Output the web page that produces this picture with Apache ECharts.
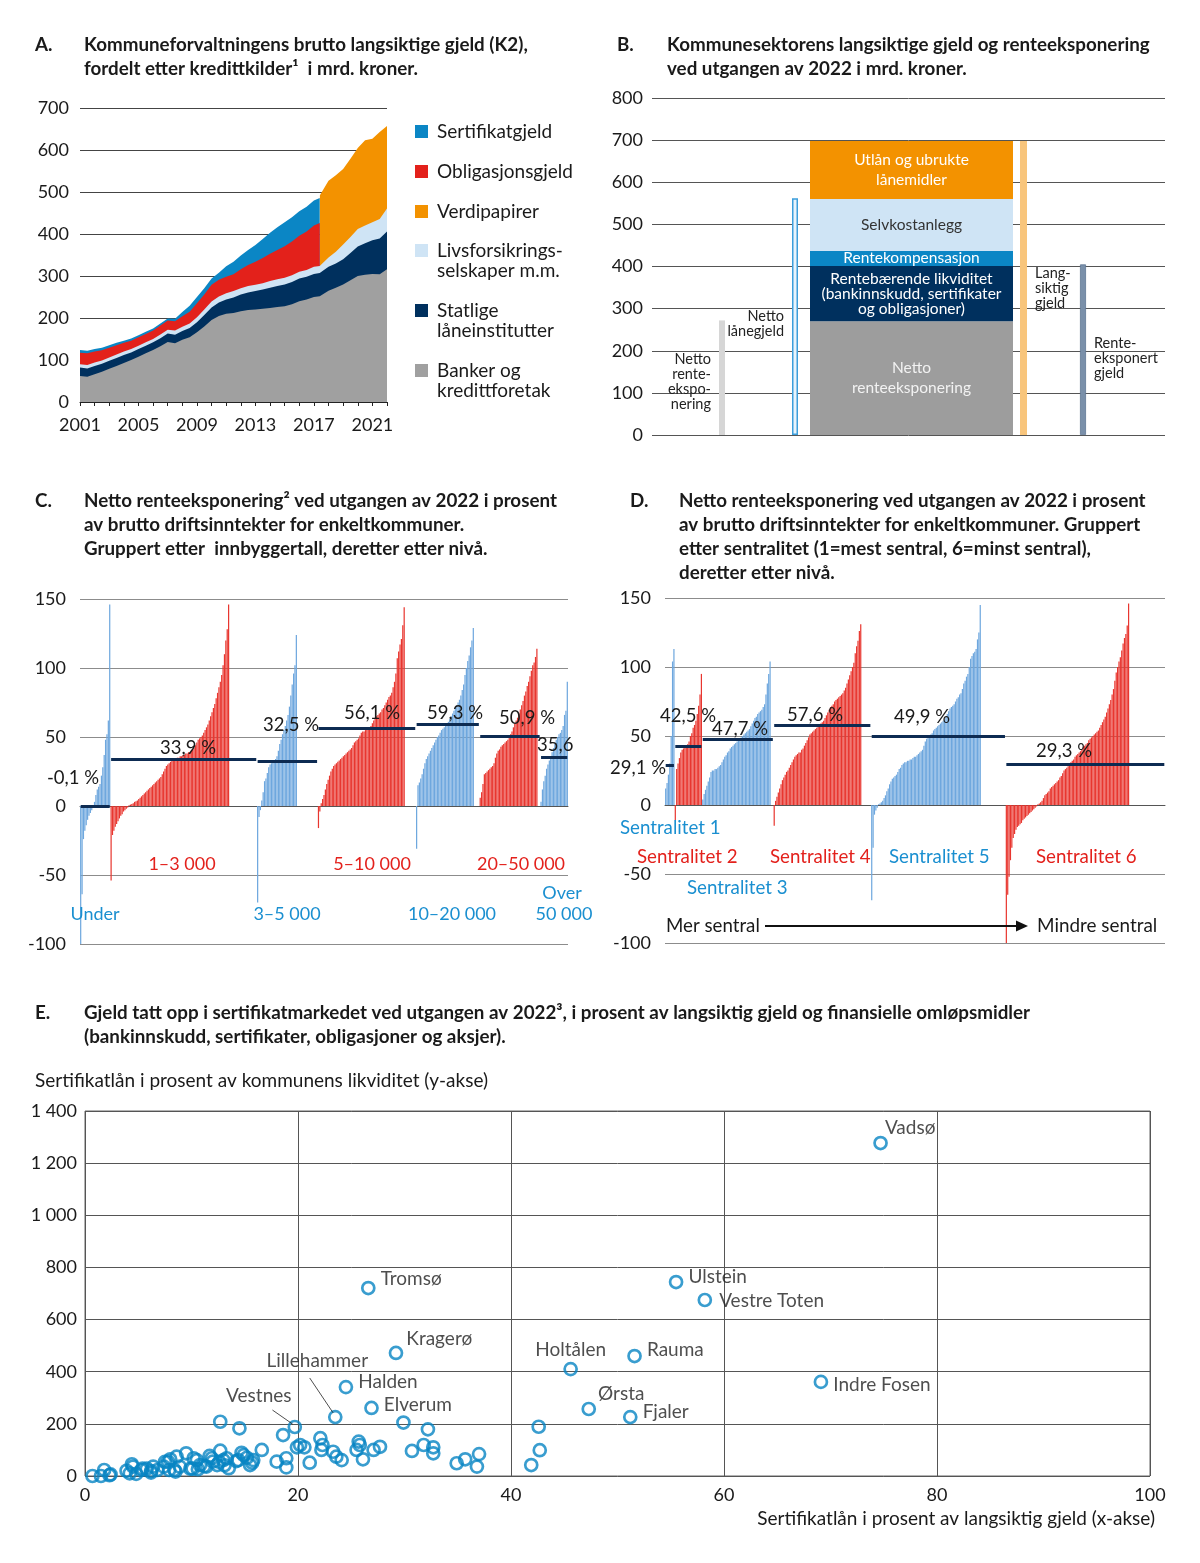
<!DOCTYPE html>
<html><head><meta charset="utf-8">
<script src="https://cdn.jsdelivr.net/npm/echarts@6/dist/echarts.min.js"></script>
<style>html,body{margin:0;padding:0;background:#fff}#c{width:1200px;height:1563px}</style>
</head><body><div id="c"></div>
<script>
// ================= DATA =================
// Panel A: brutto langsiktig gjeld (mrd. kr), per kredittkilde
const aYears = [2001,2001.5,2002,2002.5,2003,2003.5,2004,2004.5,2005,2005.5,2006,2006.5,2007,2007.5,2008,2008.5,2009,2009.5,2010,2010.5,2011,2011.5,2012,2012.5,2013,2013.5,2014,2014.5,2015,2015.5,2016,2016.5,2017,2017.4,2017.41,2018,2018.5,2019,2019.5,2020,2020.5,2021,2021.5,2022];
const aBanker = [62,60,66,72,79,86,93,100,108,116,124,133,143,140,148,154,166,180,195,205,210,212,216,219,220,222,224,226,228,233,240,244,250,252,252,265,272,280,290,300,303,305,304,316];
const aStatlige = [20,20,20,19,19,19,19,18,18,18,18,19,20,20,21,22,24,27,30,32,34,37,40,42,44,46,48,50,52,53,54,54,55,55,55,57,58,60,65,70,75,80,85,90];
const aLivs = [8,8,8,8,8,8,8,8,8,8,8,9,9,10,10,11,12,13,14,14,15,15,15,15,15,15,16,16,16,16,16,16,17,17,17,22,28,35,38,42,42,43,47,55];
const aObligasjon = [27,28,26,24,23,22,21,20,20,20,20,21,22,22,25,28,33,36,40,40,39,40,45,50,55,60,65,70,75,80,86,92,98,102,null,null,null,null,null,null,null,null,null,null];
const aSertifikat = [7,6,6,6,6,6,5,5,5,5,5,5,5,6,10,14,15,15,15,17,25,30,33,36,40,45,50,54,57,58,58,59,60,60,null,null,null,null,null,null,null,null,null,null];
const aVerdipapirer = [null,null,null,null,null,null,null,null,null,null,null,null,null,null,null,null,null,null,null,null,null,null,null,null,null,null,null,null,null,null,null,null,null,null,168,183,182,180,186,193,203,199,207,196];
const aTicks = [0,100,200,300,400,500,600,700];

// Panel B
const bStackNames = ['Netto renteeksponering','Rentebærende likviditet (bankinnskudd, sertifikater og obligasjoner)','Rentekompensasjon','Selvkostanlegg','Utlån og ubrukte lånemidler'];
const bStackValues = [270, 131, 36, 123, 138];
const bSideNames = ['Netto renteeksponering','Netto lånegjeld','Langsiktig gjeld','Renteeksponert gjeld'];
const bSideValues = [272, 562, 698, 405];

// Panel C: grupper etter innbyggertall (sortert etter nivå)
const cGroups = ['Under 1 000','1–3 000','3–5 000','5–10 000','10–20 000','20–50 000','Over 50 000'];
const cUnder = [-150,-64,-24,-18,-14,-10,-7,-5,-3,-1,3,8,12,14,16,22,28,37,48,52,62,146];
const c1to3 = [-54,-21,-18,-15,-13,-11,-9,-7,-6,-4,-3,-2,-1,0.5,1,1.5,2,3,3.5,4,5,6,7,8,9,10,11,12,13,14,15,16,17,18,19,20,21,23,25,27,29,30,31,32,33,33,34,34,35,35,36,36,37,37,38,38,39,39,40,41,42,44,46,48,49,50,51,53,55,57,59,62,65,68,71,74,78,82,86,90,95,102,110,120,128,146];
const c3to5 = [-70,-8,-3,4,10,18,20,24,28,30,31,32,33,34,36,40,45,48,52,55,58,62,66,72,80,88,96,102,124];
const c5to10 = [-16,-4,2,5,8,12,16,19,22,25,27,29,30,31,32,33,34,35,36,37,38,39,40,41,42,44,46,47,48,49,51,53,54,54,55,55,56,57,58,60,62,64,65,66,67,68,70,71,73,75,77,79,80,82,86,90,96,107,112,117,121,131,144];
const c10to20 = [-31,15,17,20,23,27,31,34,36,38,40,42,44,46,48,50,51,53,55,56,57,58,60,61,63,65,67,69,71,73,75,77,80,84,88,95,100,105,109,115,120,129];
const c20to50 = [6,10,16,23,24,25,26,27,28,29,31,35,38,40,41,43,44,45,46,47,48,50,52,54,57,60,62,64,67,70,73,76,80,83,87,90,94,98,102,104,108,114];
const cOver50 = [3,12,18,22,27,30,33,36,39,42,45,48,50,52,53,55,58,66,69,90];
const cAvg = [-0.1, 33.9, 32.5, 56.1, 59.3, 50.9, 35.6];

// Panel D: grupper etter sentralitet
const dGroups = ['Sentralitet 1','Sentralitet 2','Sentralitet 3','Sentralitet 4','Sentralitet 5','Sentralitet 6'];
const d1 = [12,16,22,30,50,104,113];
const d2 = [-11,26,30,34,38,40,41,42,43,44,46,50,52,56,58,61,66,72,80,95];
const d3 = [4,8,11,14,17,20,24,25,25,26,26,27,28,29,31,33,35,36,38,39,41,42,43,44,45,46,47,48,49,50,51,52,53,54,55,57,59,61,63,64,66,67,68,69,71,73,80,88,95,104];
const d4 = [-15,3,6,9,12,15,18,20,22,24,25,27,29,31,33,35,36,37,38,38,40,41,43,45,47,49,51,52,53,54,55,56,57,58,59,60,61,63,65,67,69,71,72,73,75,76,77,78,79,80,81,83,85,88,91,94,97,100,103,110,115,119,126,131];
const d5 = [-69,-31,-7,-4,-2,0.5,1,2,3,5,7,10,12,15,17,19,20,21,22,24,26,27,29,30,31,31,32,32,33,33,34,35,35,36,37,38,39,40,43,46,48,49,50,51,52,54,55,56,57,58,59,60,61,62,64,66,68,70,71,72,73,75,77,78,80,81,84,88,90,93,95,100,106,108,110,111,113,120,125,145];
const d6 = [-130,-65,-52,-40,-31,-24,-21,-18,-16,-15,-14,-13,-11,-10,-9,-8,-7,-6,-5,-4,-3,-2,-1,0.5,1,2,3,5,7,8,9,10,12,13,14,15,16,17,18,20,21,23,25,26,27,28,30,31,32,33,35,36,37,38,39,40,42,43,44,45,47,48,49,50,51,52,53,54,56,58,60,62,64,67,70,73,76,80,84,90,96,100,104,107,112,117,121,124,130,146];
const dAvg = [29.1, 42.5, 47.7, 57.6, 49.9, 29.3];

// Panel E: scatter
const eNames = ['Vadsø','Tromsø','Ulstein','Vestre Toten','Kragerø','Holtålen','Rauma','Indre Fosen','Halden','Lillehammer','Elverum','Vestnes','Ørsta','Fjaler'];
const eNamedX = [74.7,26.6,55.5,58.2,29.2,45.6,51.6,69.1,24.5,23.5,26.9,19.7,47.3,51.2];
const eNamedY = [1277,721,744,675,472,410,460,361,341,226,261,188,257,226];
const eX = [0.7,1.5,2.3,3.9,4.5,4.2,4.8,5.3,5.8,6.2,6.4,6.8,7.4,7.8,7.9,8.5,8.6,8.9,9.5,9.9,10.2,10.5,10.6,10.8,11.4,11.9,12.0,12.4,12.7,12.7,13.0,13.5,13.3,14.4,14.5,14.7,14.9,15.5,15.8,16.6,18.0,18.6,18.9,18.9,19.9,20.2,20.6,21.1,22.1,22.3,22.2,23.3,23.6,24.1,25.7,25.8,25.5,26.1,27.1,27.7,29.9,30.7,31.8,32.2,32.7,32.7,34.9,35.7,36.8,37.0,41.9,42.7,42.6,1.8,2.4,4.4,5.4,6.2,7.5,8.0,8.4,10.1,11.2,11.7,12.6,13.1,14.2,15.2,15.7];
const eY = [0,0,3,20,36,10,8,23,28,13,36,23,36,55,23,17,74,36,87,28,68,61,26,42,36,68,55,42,97,208,61,30,68,61,183,89,80,42,61,100,55,157,68,33,110,119,110,51,145,119,100,93,74,61,132,119,100,64,100,112,205,96,119,179,110,87,49,64,36,84,42,99,189,23,6,45,28,19,54,64,23,28,38,77,54,41,57,70,51];

// ================= LAYOUT / STYLE =================
const FF = 'Lato';
const INK = '#1a1a1a';
const BLUE_T = '#1a8fd0', RED_T = '#e3211c';
const BAR_BLUE = '#6ea7de', BAR_RED = '#e8362f', AVG = '#0d2b52';
const AX = {fontFamily: FF, fontSize: 18, color: INK};
const TS = 18.8;   // title size
const LS = 19;     // label size

function txt(x, y, text, o) {
  o = o || {};
  const st = {text: text, font: (o.weight || 'normal') + ' ' + (o.size || LS) + 'px ' + FF, fill: o.color || INK,
    textAlign: o.align || 'left', textVerticalAlign: 'middle'};
  return {type: 'text', x: x, y: y, silent: true, z: 100, style: st};
}
function rect(x, y, w, h, color) {
  return {type: 'rect', silent: true, z: 100, shape: {x: x, y: y, width: w, height: h}, style: {fill: color}};
}

// ---- Panel A cumulative tops (painter's stacking) ----
const addArr = (a, b) => a.map((v, i) => (v == null || b[i] == null) ? null : v + b[i]);
const c1 = aBanker, c2 = addArr(c1, aStatlige), c3 = addArr(c2, aLivs), c4 = addArr(c3, aObligasjon),
      c5 = addArr(c4, aSertifikat), c6 = addArr(c3, aVerdipapirer);
const aDefs = [
  {name: 'Sertifikatgjeld', top: c5, color: '#0b86c5'},
  {name: 'Verdipapirer', top: c6, color: '#f39200'},
  {name: 'Obligasjonsgjeld', top: c4, color: '#e3211b'},
  {name: 'Livsforsikringsselskaper m.m.', top: c3, color: '#cfe4f5'},
  {name: 'Statlige låneinstitutter', top: c2, color: '#00305e'},
  {name: 'Banker og kredittforetak', top: c1, color: '#a0a0a0'}
];
const aSeries = aDefs.map(d => ({
  type: 'line', name: d.name, xAxisIndex: 0, yAxisIndex: 0, silent: true,
  symbol: 'none', showSymbol: false, lineStyle: {width: 0}, itemStyle: {color: d.color},
  areaStyle: {color: d.color, opacity: 1},
  data: aYears.map((x, i) => [x, d.top[i] == null ? '-' : d.top[i]])
}));

// ---- Panel B ----
const bStackColors = ['#9d9d9d', '#00305e', '#0b86c5', '#cfe4f5', '#f39200'];
const bStackLabel = [
  {text: 'Netto\nrenteeksponering', color: '#f2f2f2', lh: 20},
  {text: 'Rentebærende likviditet\n(bankinnskudd, sertifikater\nog obligasjoner)', color: '#ffffff', lh: 15},
  {text: 'Rentekompensasjon', color: '#ffffff', lh: 15},
  {text: 'Selvkostanlegg', color: '#333333', lh: 15},
  {text: 'Utlån og ubrukte\nlånemidler', color: '#ffffff', lh: 20}
];
const bStackSeries = bStackNames.map((n, i) => ({
  type: 'bar', name: n, stack: 'b', xAxisIndex: 4, yAxisIndex: 4, barWidth: '100%', silent: true,
  itemStyle: {color: bStackColors[i]}, data: [bStackValues[i]],
  label: {show: true, position: 'inside', formatter: bStackLabel[i].text, color: bStackLabel[i].color,
    fontFamily: FF, fontSize: 15.5, lineHeight: bStackLabel[i].lh}
}));
const bSideStyle = [
  {grid: 2, item: {color: '#d6d6d6'}, text: 'Netto\nrente-\nekspo-\nnering', pos: 'left', off: [0, 4]},
  {grid: 3, item: {color: '#e9f4fc', borderColor: '#3d9edb', borderWidth: 1.5}, text: 'Netto\nlånegjeld', pos: 'left', off: [0, 7]},
  {grid: 5, item: {color: '#f8c57c'}, text: 'Lang-\nsiktig\ngjeld', pos: 'right', off: [0, 0]},
  {grid: 6, item: {color: '#7a90aa', borderColor: '#5f7693', borderWidth: 0.8}, text: 'Rente-\neksponert\ngjeld', pos: 'right', off: [0, 9]}
];
const bSideSeries = bSideNames.map((n, i) => ({
  type: 'bar', name: n, xAxisIndex: bSideStyle[i].grid, yAxisIndex: bSideStyle[i].grid, barWidth: '100%', silent: true,
  itemStyle: bSideStyle[i].item, data: [bSideValues[i]],
  label: {show: true, position: bSideStyle[i].pos, distance: 8, offset: bSideStyle[i].off, formatter: bSideStyle[i].text,
    color: '#222', fontFamily: FF, fontSize: 14.5, lineHeight: 15}
}));

// ---- Panels C / D: build slot arrays ----
function buildBars(groups, gaps, colors) {
  const slots = [], spans = [];
  groups.forEach((vals, g) => {
    const start = slots.length;
    vals.forEach(v => slots.push({value: v, itemStyle: {color: colors[g]}}));
    for (let k = 0; k < gaps[g]; k++) slots.push('-');
    spans.push([start, slots.length - 1]);
  });
  return {slots, spans, cats: slots.map((_, i) => String(i))};
}
const C = buildBars([cUnder, c1to3, c3to5, c5to10, c10to20, c20to50, cOver50], [0, 20, 15, 8, 4, 2, 0],
  [BAR_BLUE, BAR_RED, BAR_BLUE, BAR_RED, BAR_BLUE, BAR_RED, BAR_BLUE]);
const D = buildBars([d1, d2, d3, d4, d5, d6], [0, 0, 2, 7, 18, 26],
  [BAR_BLUE, BAR_RED, BAR_BLUE, BAR_RED, BAR_BLUE, BAR_RED]);
function avgLines(spans, avgs) {
  return {silent: true, symbol: ['none', 'none'], label: {show: false},
    lineStyle: {color: AVG, width: 3, type: 'solid'},
    data: spans.map((s, i) => [{coord: [String(s[0]), avgs[i]]}, {coord: [String(s[1]), avgs[i]]}])};
}
const fmtPct = v => v.toFixed(1).replace('.', ',') + ' %';

// ---- Panel E ----
const eLabelLayout = {
  'Vadsø': {position: 'right', offset: [-8, -15]},
  'Tromsø': {position: 'right', offset: [0, -9]},
  'Ulstein': {position: 'right', offset: [0, -5]},
  'Vestre Toten': {position: 'right', offset: [2, 1]},
  'Kragerø': {position: 'right', offset: [-2, -14]},
  'Holtålen': {position: 'top', offset: [0, 3]},
  'Rauma': {position: 'right', offset: [0, -6]},
  'Indre Fosen': {position: 'right', offset: [0, 3]},
  'Halden': {position: 'right', offset: [0, -5]},
  'Lillehammer': {position: 'top', offset: [-18, -34]},
  'Elverum': {position: 'right', offset: [0, -3]},
  'Vestnes': {position: 'top', offset: [-36, -9]},
  'Ørsta': {position: 'right', offset: [-3, -15]},
  'Fjaler': {position: 'right', offset: [0, -5]}
};
const eData = eX.map((x, i) => [x, eY[i]]).concat(eNames.map((n, i) => ({
  name: n, value: [eNamedX[i], eNamedY[i]],
  label: Object.assign({show: true, formatter: '{b}', distance: 5, color: '#222', fontFamily: FF, fontSize: LS}, eLabelLayout[n])
})));
const fmtThousand = v => v >= 1000 ? Math.floor(v / 1000) + ' ' + String(v % 1000).padStart(3, '0') : String(v);

// ---- grids & axes ----
const grids = [
  {left: 80, top: 108, width: 307, height: 294},
  {left: 652, top: 98, width: 513, height: 337},
  {left: 719, top: 98, width: 6, height: 337},
  {left: 792, top: 98, width: 6, height: 337},
  {left: 810, top: 98, width: 203, height: 337},
  {left: 1020, top: 98, width: 7, height: 337},
  {left: 1080, top: 98, width: 6, height: 337},
  {left: 80, top: 599, width: 488, height: 345},
  {left: 665, top: 598, width: 500, height: 345},
  {left: 85, top: 1111, width: 1065, height: 365, show: true, borderColor: '#666', borderWidth: 1}
].map(g => Object.assign({containLabel: false, outerBoundsMode: 'none'}, g));

const hiddenCat = (gi, name) => ({gridIndex: gi, type: 'category', data: [name], show: false});
const xAxes = [
  {gridIndex: 0, type: 'value', min: 2001, max: 2022, interval: 1,
    axisLine: {lineStyle: {color: '#222'}}, axisTick: {show: true, length: 4, lineStyle: {color: '#222'}},
    axisLabel: Object.assign({}, AX, {margin: 14, formatter: v => ((v - 2001) % 4 === 0 ? String(v) : '')}),
    splitLine: {show: false}},
  hiddenCat(1, ''), hiddenCat(2, bSideNames[0]), hiddenCat(3, bSideNames[1]), hiddenCat(4, 'Sum'),
  hiddenCat(5, bSideNames[2]), hiddenCat(6, bSideNames[3]),
  {gridIndex: 7, type: 'category', data: C.cats, axisLine: {onZero: true, lineStyle: {color: '#555'}}, axisTick: {show: false}, axisLabel: {show: false}},
  {gridIndex: 8, type: 'category', data: D.cats, axisLine: {onZero: true, lineStyle: {color: '#555'}}, axisTick: {show: false}, axisLabel: {show: false}},
  {gridIndex: 9, type: 'value', min: 0, max: 100, interval: 20, axisLine: {show: false}, axisTick: {show: false},
    axisLabel: Object.assign({}, AX, {margin: 10}), splitLine: {lineStyle: {color: '#555'}}}
];
const hiddenVal = gi => ({gridIndex: gi, type: 'value', min: 0, max: 800, show: false});
const yAxes = [
  {gridIndex: 0, type: 'value', min: aTicks[0], max: aTicks[aTicks.length - 1], interval: 100, axisLine: {show: false}, axisTick: {show: false},
    axisLabel: Object.assign({}, AX, {margin: 11}), splitLine: {lineStyle: {color: '#444'}}},
  {gridIndex: 1, type: 'value', min: 0, max: 800, interval: 100, axisLine: {show: false}, axisTick: {show: false},
    axisLabel: Object.assign({}, AX, {margin: 9}), splitLine: {lineStyle: {color: '#555'}}},
  hiddenVal(2), hiddenVal(3), hiddenVal(4), hiddenVal(5), hiddenVal(6),
  {gridIndex: 7, type: 'value', min: -100, max: 150, interval: 50, axisLine: {show: false}, axisTick: {show: false},
    axisLabel: Object.assign({}, AX, {margin: 14}), splitLine: {lineStyle: {color: '#8c8c8c'}}},
  {gridIndex: 8, type: 'value', min: -100, max: 150, interval: 50, axisLine: {show: false}, axisTick: {show: false},
    axisLabel: Object.assign({}, AX, {margin: 14}), splitLine: {lineStyle: {color: '#8c8c8c'}}},
  {gridIndex: 9, type: 'value', min: 0, max: 1400, interval: 200, axisLine: {show: false}, axisTick: {show: false},
    axisLabel: Object.assign({}, AX, {margin: 8, formatter: fmtThousand}), splitLine: {lineStyle: {color: '#555'}}}
];

// ---- series ----
const series = [].concat(aSeries, bSideSeries, bStackSeries, [
  {type: 'bar', name: 'Innbyggertall', xAxisIndex: 7, yAxisIndex: 7, data: C.slots, barCategoryGap: '12%', silent: true,
    markLine: avgLines(C.spans, cAvg)},
  {type: 'bar', name: 'Sentralitet', xAxisIndex: 8, yAxisIndex: 8, data: D.slots, barCategoryGap: '12%', silent: true,
    markLine: avgLines(D.spans, dAvg)},
  {type: 'scatter', name: 'Kommuner', xAxisIndex: 9, yAxisIndex: 9, symbol: 'circle', symbolSize: 12, silent: true,
    itemStyle: {color: 'rgba(255,255,255,0)', borderColor: '#0884c3', borderWidth: 2.7},
    data: eData,
    markLine: {silent: true, symbol: ['none', 'none'], label: {show: false}, lineStyle: {color: '#222', width: 0.8, type: 'solid'},
      data: [[{coord: [21.1, 376]}, {coord: [23.3, 242]}], [{coord: [17.6, 253]}, {coord: [19.5, 199]}]]}}
]);

// ---- graphic texts ----
const B = 'bold';
const T = {weight: B, size: TS};
const g = [
  // titles
  txt(35, 45, 'A.', T), txt(84, 45, 'Kommuneforvaltningens brutto langsiktige gjeld (K2),', T),
  txt(84, 69, 'fordelt etter kredittkilder¹  i mrd. kroner.', T),
  txt(617, 45, 'B.', T), txt(667, 45, 'Kommunesektorens langsiktige gjeld og renteeksponering', T),
  txt(667, 69, 'ved utgangen av 2022 i mrd. kroner.', T),
  txt(35, 501, 'C.', T), txt(84, 501, 'Netto renteeksponering² ved utgangen av 2022 i prosent', T),
  txt(84, 525, 'av brutto driftsinntekter for enkeltkommuner.', T),
  txt(84, 549, 'Gruppert etter  innbyggertall, deretter etter nivå.', T),
  txt(630, 501, 'D.', T), txt(679, 501, 'Netto renteeksponering ved utgangen av 2022 i prosent', T),
  txt(679, 525, 'av brutto driftsinntekter for enkeltkommuner. Gruppert', T),
  txt(679, 549, 'etter sentralitet (1=mest sentral, 6=minst sentral),', T),
  txt(679, 573, 'deretter etter nivå.', T),
  txt(35, 1013, 'E.', T),
  txt(84, 1013, 'Gjeld tatt opp i sertifikatmarkedet ved utgangen av 2022³, i prosent av langsiktig gjeld og finansielle omløpsmidler', T),
  txt(84, 1037, '(bankinnskudd, sertifikater, obligasjoner og aksjer).', T),
  // legend A
  rect(415, 125, 13, 13, '#0b86c5'), txt(437, 132, 'Sertifikatgjeld'),
  rect(415, 165, 13, 13, '#e3211b'), txt(437, 172, 'Obligasjonsgjeld'),
  rect(415, 205, 13, 13, '#f39200'), txt(437, 212, 'Verdipapirer'),
  rect(415, 244, 13, 13, '#cfe4f5'), txt(437, 251, 'Livsforsikrings-'), txt(437, 271, 'selskaper m.m.'),
  rect(415, 304, 13, 13, '#00305e'), txt(437, 311, 'Statlige'), txt(437, 331, 'låneinstitutter'),
  rect(415, 364, 13, 13, '#a0a0a0'), txt(437, 371, 'Banker og'), txt(437, 391, 'kredittforetak'),
  // C group labels
  txt(95, 914, 'Under', {color: BLUE_T, align: 'center', size: 18}),
  txt(182, 864, cGroups[1], {color: RED_T, align: 'center', size: 18}),
  txt(287, 914, cGroups[2], {color: BLUE_T, align: 'center', size: 18}),
  txt(372, 864, cGroups[3], {color: RED_T, align: 'center', size: 18}),
  txt(452, 914, cGroups[4], {color: BLUE_T, align: 'center', size: 18}),
  txt(521, 864, cGroups[5], {color: RED_T, align: 'center', size: 18}),
  txt(562, 893, 'Over', {color: BLUE_T, align: 'center', size: 18}),
  txt(564, 914, '50 000', {color: BLUE_T, align: 'center', size: 18}),
  // C averages
  txt(73, 778, fmtPct(cAvg[0]), {align: 'center', size: 18.5}),
  txt(188, 748, fmtPct(cAvg[1]), {align: 'center', size: 18.5}),
  txt(291, 725, fmtPct(cAvg[2]), {align: 'center', size: 18.5}),
  txt(372, 713, fmtPct(cAvg[3]), {align: 'center', size: 18.5}),
  txt(455, 713, fmtPct(cAvg[4]), {align: 'center', size: 18.5}),
  txt(527, 718, fmtPct(cAvg[5]), {align: 'center', size: 18.5}),
  txt(537, 745, fmtPct(cAvg[6]).replace(' %', ''), {size: 18.5}),
  // D group labels
  txt(620, 828, dGroups[0], {color: BLUE_T, size: 18.7}),
  txt(637, 857, dGroups[1], {color: RED_T, size: 18.7}),
  txt(687, 888, dGroups[2], {color: BLUE_T, size: 18.7}),
  txt(770, 857, dGroups[3], {color: RED_T, size: 18.7}),
  txt(889, 857, dGroups[4], {color: BLUE_T, size: 18.7}),
  txt(1036, 857, dGroups[5], {color: RED_T, size: 18.7}),
  // D averages
  txt(638, 768, fmtPct(dAvg[0]), {align: 'center', size: 18.5}),
  txt(688, 716, fmtPct(dAvg[1]), {align: 'center', size: 18.5}),
  txt(740, 729, fmtPct(dAvg[2]), {align: 'center', size: 18.5}),
  txt(815, 715, fmtPct(dAvg[3]), {align: 'center', size: 18.5}),
  txt(922, 717, fmtPct(dAvg[4]), {align: 'center', size: 18.5}),
  txt(1064, 751, fmtPct(dAvg[5]), {align: 'center', size: 18.5}),
  // D arrow
  txt(666, 926, 'Mer sentral', {size: 18.7}), txt(1037, 926, 'Mindre sentral', {size: 18.9}),
  {type: 'line', silent: true, z: 100, shape: {x1: 765, y1: 926, x2: 1018, y2: 926}, style: {stroke: '#111', lineWidth: 2}},
  {type: 'polygon', silent: true, z: 100, shape: {points: [[1016, 920.5], [1028, 926], [1016, 931.5]]}, style: {fill: '#111'}},
  // E axis titles
  txt(35, 1081, 'Sertifikatlån i prosent av kommunens likviditet (y-akse)'),
  txt(1155, 1519, 'Sertifikatlån i prosent av langsiktig gjeld (x-akse)', {align: 'right'})
];

const chart = echarts.init(document.getElementById('c'), null, {renderer: 'canvas', width: 1200, height: 1563});
chart.setOption({
  animation: false,
  backgroundColor: '#ffffff',
  textStyle: {fontFamily: FF},
  grid: grids, xAxis: xAxes, yAxis: yAxes, series: series, graphic: g
});
</script></body></html>
